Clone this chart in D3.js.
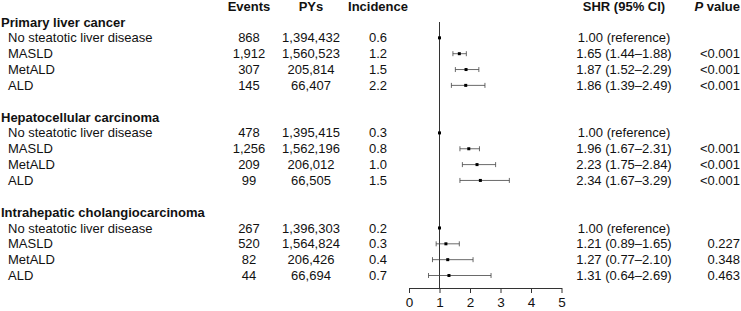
<!DOCTYPE html>
<html>
<head>
<meta charset="utf-8">
<script src="https://cdn.jsdelivr.net/npm/d3@7"></script>
<style>
  body { margin: 0; background: #fff; }
  svg { display: block; font-family: Arial, "Liberation Sans", sans-serif; }
</style>
</head>
<body>
<svg id="forest" width="741" height="311"></svg>
<script>
// data
var sections = ["Primary liver cancer", "Hepatocellular carcinoma", "Intrahepatic cholangiocarcinoma"];
var groups = ["No steatotic liver disease", "MASLD", "MetALD", "ALD"];
var events = [["868", "1,912", "307", "145"], ["478", "1,256", "209", "99"], ["267", "520", "82", "44"]];
var pys = [["1,394,432", "1,560,523", "205,814", "66,407"], ["1,395,415", "1,562,196", "206,012", "66,505"], ["1,396,303", "1,564,824", "206,426", "66,694"]];
var incidence = [["0.6", "1.2", "1.5", "2.2"], ["0.3", "0.8", "1.0", "1.5"], ["0.2", "0.3", "0.4", "0.7"]];
var shr = [[1.00, 1.65, 1.87, 1.86], [1.00, 1.96, 2.23, 2.34], [1.00, 1.21, 1.27, 1.31]];
var lower = [[null, 1.44, 1.52, 1.39], [null, 1.67, 1.75, 1.67], [null, 0.89, 0.77, 0.64]];
var upper = [[null, 1.88, 2.29, 2.49], [null, 2.31, 2.84, 3.29], [null, 1.65, 2.10, 2.69]];
var shrText = [["1.00 (reference)", "1.65 (1.44\u20131.88)", "1.87 (1.52\u20132.29)", "1.86 (1.39\u20132.49)"],
               ["1.00 (reference)", "1.96 (1.67\u20132.31)", "2.23 (1.75\u20132.84)", "2.34 (1.67\u20133.29)"],
               ["1.00 (reference)", "1.21 (0.89\u20131.65)", "1.27 (0.77\u20132.10)", "1.31 (0.64\u20132.69)"]];
var pvals = [["", "<0.001", "<0.001", "<0.001"], ["", "<0.001", "<0.001", "<0.001"], ["", "0.227", "0.348", "0.463"]];
var xTicks = [0, 1, 2, 3, 4, 5];

var svg = d3.select("#forest");

var x = d3.scaleLinear().domain([0, 5]).range([409, 561.5]);
// row index: section s, row r (0 = heading) -> s*6 + r
var y = d3.scaleLinear().domain([0, 16]).range([22, 275.5]);

var col = { events: 249, pys: 311, inc: 378, shr: 624, p: 740 };

function txt(xp, yp, s, anchor, bold, italic) {
  return svg.append("text")
    .attr("x", xp).attr("y", yp)
    .attr("dy", "0.35em")
    .attr("font-size", 13)
    .attr("text-anchor", anchor || "start")
    .attr("font-weight", bold ? "bold" : null)
    .attr("font-style", italic ? "italic" : null)
    .attr("fill", "#111")
    .text(s);
}

// column headers
var hy = y(-1);
txt(col.events, hy, "Events", "middle", true);
txt(col.pys, hy, "PYs", "middle", true);
txt(col.inc, hy, "Incidence", "middle", true);
txt(col.shr, hy, "SHR (95% CI)", "middle", true);
var ph = txt(col.p, hy, "", "end", true);
ph.append("tspan").attr("font-style", "italic").text("P");
ph.append("tspan").text(" value");

// reference line at 1
svg.append("line")
  .attr("x1", x(1)).attr("x2", x(1))
  .attr("y1", y(0)).attr("y2", 288)
  .attr("stroke", "#333").attr("stroke-width", 1);

sections.forEach(function(sec, s) {
  txt(1, y(s * 6), sec, "start", true);
  groups.forEach(function(g, r) {
    var yy = y(s * 6 + r + 1);
    txt(8, yy, g);
    txt(col.events, yy, events[s][r], "middle");
    txt(col.pys, yy, pys[s][r], "middle");
    txt(col.inc, yy, incidence[s][r], "middle");
    txt(col.shr, yy, shrText[s][r], "middle");
    if (pvals[s][r]) txt(col.p, yy, pvals[s][r], "end");

    if (lower[s][r] != null) {
      var ci = svg.append("g").attr("stroke", "#444").attr("stroke-width", 0.8);
      ci.append("line").attr("x1", x(lower[s][r])).attr("x2", x(upper[s][r])).attr("y1", yy).attr("y2", yy);
      ci.append("line").attr("x1", x(lower[s][r])).attr("x2", x(lower[s][r])).attr("y1", yy - 2.5).attr("y2", yy + 2.5);
      ci.append("line").attr("x1", x(upper[s][r])).attr("x2", x(upper[s][r])).attr("y1", yy - 2.5).attr("y2", yy + 2.5);
    }
    svg.append("rect")
      .attr("x", x(shr[s][r]) - 1.5).attr("y", yy - 1.5)
      .attr("width", 3).attr("height", 3)
      .attr("fill", "#000");
  });
});

// x axis
var axis = svg.append("g")
  .attr("transform", "translate(0,288)")
  .call(d3.axisBottom(x).tickValues(xTicks).tickFormat(d3.format("d"))
    .tickSize(5).tickSizeOuter(0).tickPadding(4));
axis.select(".domain").attr("stroke", "#333");
axis.selectAll(".tick line").attr("stroke", "#333");
axis.selectAll(".tick text")
  .attr("font-size", 13.5)
  .attr("font-family", "Arial, 'Liberation Sans', sans-serif")
  .attr("fill", "#111");
</script>
</body>
</html>
